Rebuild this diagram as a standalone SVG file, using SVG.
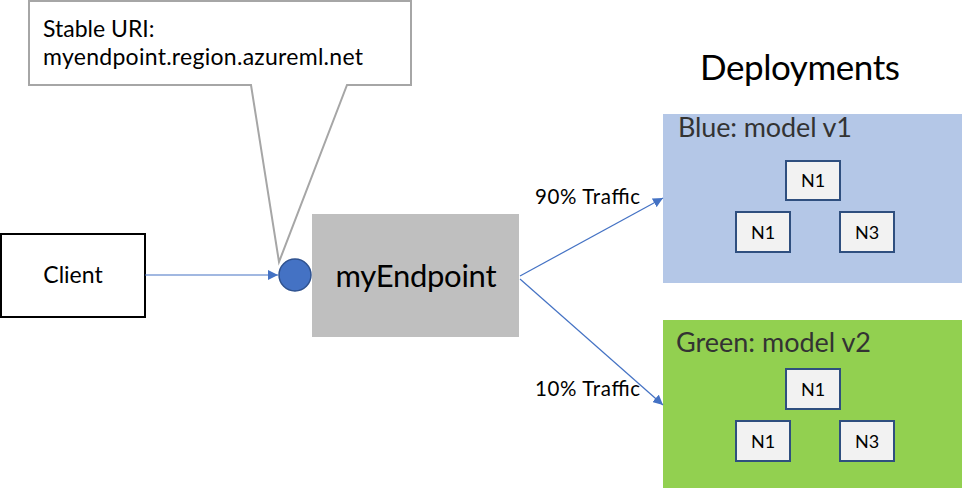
<svg xmlns="http://www.w3.org/2000/svg" width="964" height="491" viewBox="0 0 964 491">
<defs>
<style>
text{font-family:Lato,"Open Sans","Liberation Sans",Arial,sans-serif;}
.conn{stroke:#4472C4;stroke-width:1.2;fill:none;}
.node{fill:#F2F2F2;stroke:#2F4F7F;stroke-width:2;}
.nt{font-size:18px;fill:#000;text-anchor:middle;}
.title{font-size:27px;fill:#333;}
.lbl{font-size:20.5px;fill:#000;}
.body{font-size:23px;fill:#000;}
</style>
<marker id="arr" viewBox="0 0 10 10" refX="10" refY="5" markerWidth="10" markerHeight="10" markerUnits="userSpaceOnUse" orient="auto">
<path d="M0,0 L10,5 L0,10 Z" fill="#4472C4"/>
</marker>
</defs>
<rect width="964" height="491" fill="#fff"/>
<g id="callout">
<path d="M29,1 H411 V85 H347 L279,262 L251,85 H29 Z" fill="#fff" stroke="#A6A6A6" stroke-width="2"/>
<text x="43" y="37" class="body">Stable URI:</text>
<text x="43" y="65" class="body" textLength="320">myendpoint.region.azureml.net</text>
</g>
<g id="client">
<rect x="1" y="234" width="144" height="83" fill="#fff" stroke="#000" stroke-width="2"/>
<text x="73" y="283" text-anchor="middle" class="body">Client</text>
</g>
<g id="myEndpoint">
<rect x="312" y="214" width="207" height="123" fill="#BFBFBF"/>
<text x="416" y="287" text-anchor="middle" style="font-size:31px" fill="#000" textLength="161">myEndpoint</text>
</g>
<g id="endpoint-port">
<circle cx="295" cy="275" r="16" fill="#4472C4" stroke="#2F528F" stroke-width="1.5"/>
</g>
<g id="deployments-title">
<text x="800" y="80" text-anchor="middle" style="font-size:35px" fill="#000" textLength="200">Deployments</text>
</g>
<g id="blue">
<rect x="663" y="114" width="299" height="169" fill="#B4C7E7"/>
<text x="678" y="137" class="title" textLength="174">Blue: model v1</text>
</g>
<g id="blue-n1-top"><rect x="786" y="161" width="54" height="39" class="node"/><text x="813" y="187" class="nt">N1</text></g>
<g id="blue-n1"><rect x="736" y="212" width="54" height="40" class="node"/><text x="763" y="239" class="nt">N1</text></g>
<g id="blue-n3"><rect x="840" y="212" width="54" height="40" class="node"/><text x="867" y="239" class="nt">N3</text></g>
<g id="green">
<rect x="663" y="320" width="299" height="168" fill="#92D050"/>
<text x="676" y="352" class="title" textLength="195">Green: model v2</text>
</g>
<g id="green-n1-top"><rect x="786" y="369" width="54" height="40" class="node"/><text x="813" y="396" class="nt">N1</text></g>
<g id="green-n1"><rect x="736" y="421" width="54" height="40" class="node"/><text x="763" y="448" class="nt">N1</text></g>
<g id="green-n3"><rect x="840" y="421" width="54" height="40" class="node"/><text x="867" y="448" class="nt">N3</text></g>
<g id="connectors">
<line x1="145" y1="275" x2="278" y2="275" class="conn" marker-end="url(#arr)"/>
<line x1="520" y1="276" x2="663" y2="198" class="conn" marker-end="url(#arr)"/>
<line x1="520" y1="279" x2="663" y2="405" class="conn" marker-end="url(#arr)"/>
<text x="535" y="204" class="lbl" textLength="105">90% Traffic</text>
<text x="535" y="396" class="lbl" textLength="105">10% Traffic</text>
</g>
</svg>
